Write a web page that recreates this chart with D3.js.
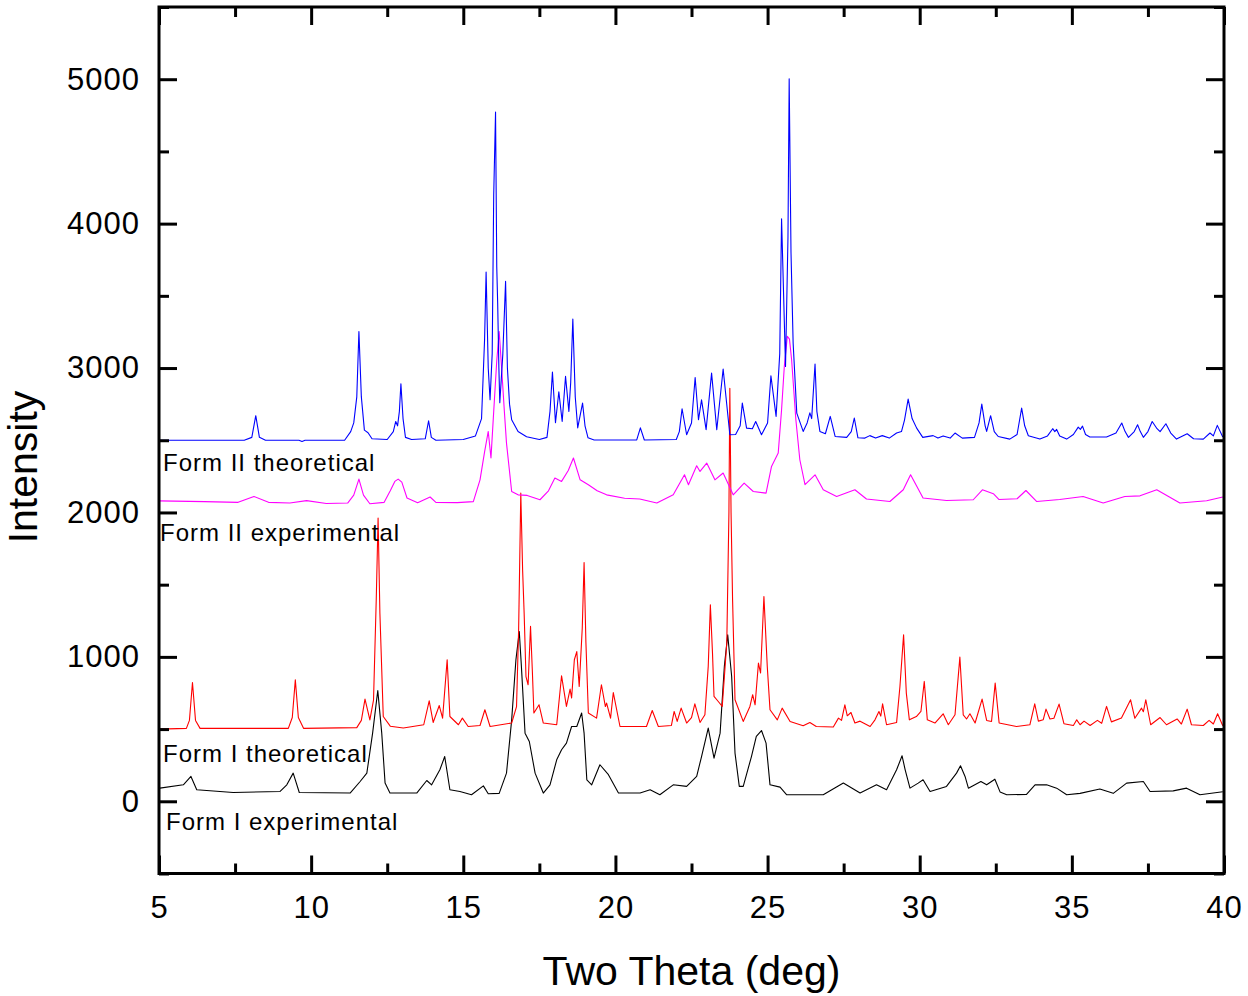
<!DOCTYPE html>
<html>
<head>
<meta charset="utf-8">
<script src="https://cdn.jsdelivr.net/npm/d3@7"></script>
<style>
  body { margin: 0; background: #fff; }
  text { font-family: "Liberation Sans", Arial, sans-serif; fill: #000; }
</style>
</head>
<body>
<div id="chart"></div>
<script>
// peak-by-peak readings of the four patterns: [two theta, intensity]
var formIITheo = [
  [5.0,2500],[7.8,2500],[8.05,2520],[8.18,2670],[8.3,2520],[8.5,2500],
  [9.6,2500],[9.7,2492],[9.8,2500],
  [11.1,2500],[11.3,2560],[11.4,2620],[11.5,2800],[11.57,3253],[11.65,2800],[11.75,2570],[11.87,2552],[12.0,2510],
  [12.5,2505],[12.7,2560],[12.78,2630],[12.84,2600],[12.9,2700],[12.95,2891],[13.02,2650],[13.1,2520],[13.3,2505],
  [13.75,2510],[13.86,2635],[13.95,2520],[14.1,2500],
  [15.0,2505],[15.4,2530],[15.6,2650],[15.7,3200],[15.75,3665],[15.82,3000],[15.88,2780],[15.95,3100],[16.0,4200],[16.06,4773],[16.1,3700],[16.13,3450],[16.17,3000],[16.2,2760],[16.3,3100],[16.39,3600],[16.45,3000],[16.52,2750],[16.59,2642],[16.8,2560],[17.08,2524],[17.5,2505],
  [17.75,2520],[17.85,2700],[17.93,2972],[18.03,2621],[18.14,2836],[18.25,2630],[18.36,2942],[18.47,2700],[18.53,2900],[18.6,3339],[18.68,2800],[18.76,2586],[18.92,2757],[19.0,2600],[19.1,2517],[19.3,2502],
  [20.7,2502],[20.82,2586],[20.95,2502],
  [22.0,2505],[22.1,2560],[22.19,2718],[22.34,2538],[22.5,2620],[22.62,2935],[22.73,2642],[22.83,2780],[22.98,2573],[23.16,2965],[23.33,2573],[23.54,2993],[23.76,2538],[23.95,2540],[24.1,2600],[24.17,2757],[24.31,2584],[24.5,2580],[24.61,2630],[24.8,2538],[25.0,2620],[25.11,2947],[25.28,2665],[25.4,3100],[25.46,4034],[25.59,3011],[25.67,3900],[25.71,5003],[25.77,3800],[25.84,3173],[25.96,2688],[26.17,2561],[26.3,2620],[26.39,2690],[26.45,2650],[26.56,3028],[26.62,2700],[26.72,2561],[26.9,2545],[27.06,2665],[27.22,2526],[27.6,2520],[27.75,2560],[27.85,2654],[27.97,2517],
  [28.2,2515],[28.36,2532],[28.55,2515],[28.77,2532],[29.0,2515],[29.24,2550],[29.4,2560],[29.5,2640],[29.62,2785],[29.75,2650],[29.9,2584],[30.1,2520],[30.44,2532],[30.6,2515],[30.77,2530],[31.0,2515],[31.16,2550],[31.4,2515],[31.8,2520],[31.95,2620],[32.04,2750],[32.15,2600],[32.2,2561],[32.33,2670],[32.45,2560],[32.58,2526],[32.96,2508],[33.2,2540],[33.35,2723],[33.45,2600],[33.57,2531],[33.95,2508],[34.2,2530],[34.37,2580],[34.44,2560],[34.5,2575],[34.6,2530],[34.83,2508],[35.05,2540],[35.21,2591],[35.28,2575],[35.35,2598],[35.45,2540],[35.59,2523],[36.14,2523],[36.45,2550],[36.64,2619],[36.75,2560],[36.86,2520],[37.05,2560],[37.16,2607],[37.25,2560],[37.35,2520],[37.5,2560],[37.64,2630],[37.8,2580],[37.9,2560],[38.09,2614],[38.25,2550],[38.44,2508],[38.79,2545],[39.0,2510],[39.32,2508],[39.54,2550],[39.65,2530],[39.78,2603],[39.96,2523]
];

var formIIExp = [
  [5.0,2080],[6.5,2075],[7.6,2070],[8.12,2111],[8.6,2070],[9.3,2065],[9.85,2082],[10.5,2062],[11.2,2065],[11.4,2120],[11.57,2231],[11.72,2120],[11.93,2060],[12.4,2070],[12.6,2150],[12.75,2215],[12.86,2231],[12.98,2210],[13.15,2100],[13.5,2068],[13.91,2107],[14.1,2070],[14.8,2068],
  [15.33,2075],[15.55,2226],[15.7,2420],[15.82,2561],[15.91,2377],[16.0,2700],[16.1,3050],[16.18,3253],[16.26,3000],[16.35,2700],[16.42,2480],[16.59,2145],[16.8,2122],[17.1,2118],[17.52,2088],[17.8,2150],[18.01,2238],[18.23,2215],[18.45,2290],[18.62,2377],[18.84,2226],[19.11,2192],[19.4,2150],[19.71,2122],[20.3,2098],[20.8,2093],[21.36,2065],[21.9,2122],
  [22.27,2261],[22.4,2192],[22.67,2323],[22.78,2284],[23.0,2342],[23.27,2226],[23.54,2273],[23.87,2122],[24.23,2203],[24.53,2145],[24.95,2134],[25.13,2319],[25.35,2411],[25.46,2711],[25.55,3011],[25.65,3220],[25.72,3200],[25.79,3057],[25.93,2642],[26.06,2365],[26.23,2192],[26.56,2261],[26.83,2157],[27.27,2111],[27.87,2157],[28.25,2093],[29.02,2076],[29.46,2157],[29.7,2261],[30.11,2100],[30.88,2083],
  [31.76,2088],[32.06,2157],[32.42,2130],[32.6,2090],[33.2,2095],[33.49,2152],[33.84,2076],[34.6,2090],[35.37,2111],[36.03,2065],[36.74,2111],[37.24,2115],[37.79,2157],[38.55,2065],[39.43,2081],[39.96,2107]
];

var formITheo = [
  [5.0,500],[5.9,505],[6.0,560],[6.1,823],[6.2,560],[6.35,505],
  [9.25,505],[9.38,580],[9.48,841],[9.58,580],[9.75,505],
  [11.5,510],[11.65,560],[11.77,708],[11.93,564],[12.05,700],[12.14,1400],[12.2,1961],[12.26,1300],[12.37,587],[12.6,520],[13.03,507],
  [13.7,530],[13.88,696],[14.01,546],[14.21,663],[14.32,576],[14.47,980],[14.56,587],[14.84,530],[14.97,576],[15.16,518],[15.55,525],[15.71,634],[15.88,518],
  [16.59,542],[16.75,656],[16.82,1200],[16.89,2134],[16.95,1600],[17.0,1303],[17.06,864],[17.13,807],[17.21,1211],[17.27,900],[17.32,611],[17.49,668],[17.63,542],[18.07,530],[18.23,869],[18.39,657],[18.51,777],[18.56,715],[18.65,980],[18.73,1037],[18.81,795],[18.91,1200],[18.97,1654],[19.03,1100],[19.11,611],[19.38,576],[19.54,807],[19.67,656],[19.71,680],[19.84,576],[19.93,753],[20.15,518],
  [21.02,518],[21.21,629],[21.41,518],[21.84,525],[21.93,622],[22.03,553],[22.16,645],[22.34,542],[22.5,580],[22.61,675],[22.78,546],[22.94,599],[23.05,934],[23.12,1360],[23.19,1026],[23.24,726],[23.38,691],[23.51,657],[23.66,1096],[23.73,2000],[23.76,2860],[23.8,2000],[23.85,1395],[23.93,703],[24.2,553],[24.42,657],[24.51,738],[24.59,668],[24.7,957],[24.77,888],[24.88,1418],[24.99,934],[25.08,634],[25.32,564],[25.48,645],[25.74,553],[26.17,523],[26.39,546],[26.6,518],
  [27.16,514],[27.33,576],[27.43,560],[27.54,668],[27.62,592],[27.74,615],[27.87,542],[28.04,555],[28.37,518],[28.53,564],[28.66,622],[28.72,590],[28.78,675],[28.91,530],[29.24,545],[29.35,795],[29.47,1153],[29.56,749],[29.66,564],[29.89,587],[30.04,622],[30.15,830],[30.25,564],[30.5,542],[30.77,606],[30.94,530],
  [31.16,599],[31.32,998],[31.43,599],[31.54,570],[31.65,606],[31.82,542],[32.05,708],[32.2,560],[32.36,553],[32.48,818],[32.61,542],[33.18,518],[33.62,530],[33.78,675],[33.9,555],[34.06,565],[34.15,638],[34.28,570],[34.41,575],[34.58,673],[34.74,537],[35.05,525],[35.16,564],[35.27,530],[35.4,555],[35.6,525],[35.84,560],[35.98,540],[36.14,657],[36.3,550],[36.63,576],[36.93,703],[37.07,575],[37.29,645],[37.35,620],[37.43,703],[37.59,530],[37.9,580],[38.11,530],[38.46,570],[38.6,535],[38.79,638],[38.93,530],[39.32,525],[39.51,560],[39.65,535],[39.79,606],[39.96,523]
];

var formIExp = [
  [5.03,91],[5.8,114],[6.05,172],[6.24,80],[7.44,61],[8.98,68],[9.2,114],[9.41,195],[9.61,61],[11.28,57],[11.61,137],[11.83,195],[12.02,472],[12.19,767],[12.32,472],[12.43,126],[12.59,57],[13.47,57],[13.8,144],[13.96,114],[14.23,218],[14.39,310],[14.56,80],[14.89,68],[15.27,45],[15.66,107],[15.82,52],[16.18,55],
  [16.42,195],[16.59,564],[16.73,980],[16.84,1176],[16.91,934],[17.03,472],[17.17,414],[17.36,195],[17.63,57],[17.85,114],[18.07,287],[18.23,357],[18.39,403],[18.56,518],[18.73,518],[18.89,611],[18.97,472],[19.06,149],[19.22,114],[19.49,253],[19.77,184],[20.1,57],[20.81,57],[21.14,80],[21.46,45],[21.9,114],[22.34,103],[22.67,172],
  [22.83,310],[23.05,507],[23.24,299],[23.44,472],[23.58,934],[23.69,1153],[23.82,864],[23.93,334],[24.07,103],[24.2,103],[24.47,310],[24.63,449],[24.8,490],[24.95,403],[25.08,114],[25.41,98],[25.63,45],[26.83,45],[27.49,126],[28.04,57],[28.58,114],[28.91,80],[29.24,218],[29.42,315],[29.52,220],[29.68,91],[29.95,126],[30.11,149],[30.34,68],[30.88,103],
  [31.21,195],[31.34,246],[31.49,172],[31.6,91],[32.01,137],[32.2,114],[32.47,153],[32.64,65],[32.86,45],[33.51,48],[33.79,114],[34.17,114],[34.5,91],[34.83,45],[35.27,55],[35.92,85],[36.36,55],[36.8,126],[37.35,137],[37.57,68],[38.33,72],[38.77,91],[39.21,45],[39.96,66]
];

var traceNames = ["Form I experimental", "Form I theoretical", "Form II experimental", "Form II theoretical"];
var traceColors = ["#000000", "#ff0000", "#ff00ff", "#0000ff"];
var xTicks = [5, 10, 15, 20, 25, 30, 35, 40];
var yTicks = [0, 1000, 2000, 3000, 4000, 5000];

(function () {
  var width = 1248, height = 996;
  var left = 159, right = 1224, top = 7, bottom = 873.5;

  var svg = d3.select("#chart").append("svg")
    .attr("width", width)
    .attr("height", height);

  var x = d3.scaleLinear().domain([5, 40]).range([left, right]);
  var y = d3.scaleLinear().domain([-500, 5500]).range([bottom, top]);

  svg.append("defs").append("clipPath").attr("id", "plot")
    .append("rect")
    .attr("x", left).attr("y", top)
    .attr("width", right - left).attr("height", bottom - top);

  var line = d3.line()
    .x(function (d) { return x(d[0]); })
    .y(function (d) { return y(d[1]); });

  var traces = [formIExp, formITheo, formIIExp, formIITheo];
  svg.append("g").attr("clip-path", "url(#plot)")
    .selectAll("path")
    .data(traces)
    .enter().append("path")
    .attr("d", line)
    .attr("fill", "none")
    .attr("stroke", function (d, i) { return traceColors[i]; })
    .attr("stroke-width", 1.1)
    .attr("stroke-linejoin", "round");

  // trace labels
  var labelPos = [[166, 830], [163, 762], [160, 541], [163, 471]];
  svg.selectAll(".trace-label")
    .data(traceNames)
    .enter().append("text")
    .attr("class", "trace-label")
    .attr("x", function (d, i) { return labelPos[i][0]; })
    .attr("y", function (d, i) { return labelPos[i][1]; })
    .style("font-size", "24px")
    .style("letter-spacing", "1px")
    .text(function (d) { return d; });

  // axes, ticks pointing inward on all four sides
  var minorX = d3.range(7.5, 40, 5);
  var minorY = d3.range(-500, 5501, 1000);

  function styleAxis(g) {
    g.select(".domain").remove();
    g.selectAll(".tick line").attr("stroke", "#000").attr("stroke-width", 3);
    g.selectAll("text")
      .style("font-size", "31px")
      .style("letter-spacing", "1px")
      .style("font-family", "'Liberation Sans', Arial, sans-serif")
      .attr("fill", "#000");
  }

  svg.append("g").attr("transform", "translate(0," + bottom + ")")
    .call(d3.axisBottom(x).tickValues(xTicks).tickSize(-18).tickPadding(22).tickFormat(d3.format("d")))
    .call(styleAxis);
  svg.append("g").attr("transform", "translate(0," + bottom + ")")
    .call(d3.axisBottom(x).tickValues(minorX).tickSize(-10).tickFormat(""))
    .call(styleAxis);
  svg.append("g").attr("transform", "translate(0," + top + ")")
    .call(d3.axisTop(x).tickValues(xTicks).tickSize(-18).tickFormat(""))
    .call(styleAxis);
  svg.append("g").attr("transform", "translate(0," + top + ")")
    .call(d3.axisTop(x).tickValues(minorX).tickSize(-10).tickFormat(""))
    .call(styleAxis);

  svg.append("g").attr("transform", "translate(" + left + ",0)")
    .call(d3.axisLeft(y).tickValues(yTicks).tickSize(-18).tickPadding(19).tickFormat(d3.format("d")))
    .call(styleAxis);
  svg.append("g").attr("transform", "translate(" + left + ",0)")
    .call(d3.axisLeft(y).tickValues(minorY).tickSize(-10).tickFormat(""))
    .call(styleAxis);
  svg.append("g").attr("transform", "translate(" + right + ",0)")
    .call(d3.axisRight(y).tickValues(yTicks).tickSize(-18).tickFormat(""))
    .call(styleAxis);
  svg.append("g").attr("transform", "translate(" + right + ",0)")
    .call(d3.axisRight(y).tickValues(minorY).tickSize(-10).tickFormat(""))
    .call(styleAxis);

  svg.append("rect")
    .attr("x", left).attr("y", top)
    .attr("width", right - left).attr("height", bottom - top)
    .attr("fill", "none")
    .attr("stroke", "#000")
    .attr("stroke-width", 3);

  // axis titles
  svg.append("text")
    .attr("x", (left + right) / 2)
    .attr("y", 985)
    .attr("text-anchor", "middle")
    .style("font-size", "41px")
    .text("Two Theta (deg)");

  svg.append("text")
    .attr("transform", "translate(37,467) rotate(-90)")
    .attr("text-anchor", "middle")
    .style("font-size", "41px")
    .text("Intensity");
})();
</script>
</body>
</html>
